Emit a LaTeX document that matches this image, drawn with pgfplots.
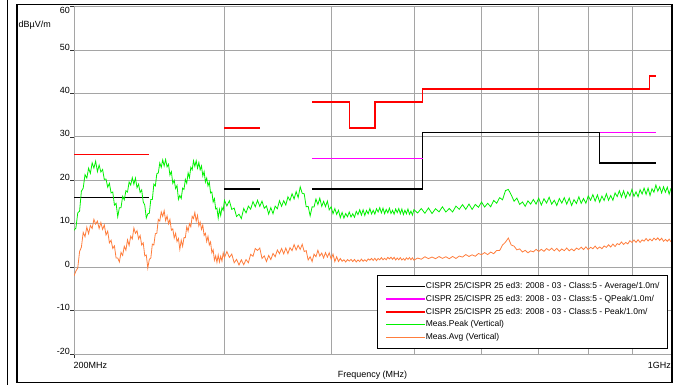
\documentclass[border=0pt]{standalone}
\usepackage{fontspec}
\setmainfont{Liberation Sans}
\usepackage{pgfplots}
\usepackage{pgfplotstable}
\pgfplotsset{compat=1.18}
\definecolor{gridgray}{RGB}{165,165,165}
\definecolor{limred}{RGB}{255,0,0}
\definecolor{limmag}{RGB}{255,0,255}
\definecolor{measg}{RGB}{0,240,0}
\definecolor{measo}{RGB}{255,125,60}

\pgfplotstableread{
f g o
200 8.5 -2.0
201 9.0 -0.9
202 12.5 -0.2
203 12.9 3.6
204 17.5 4.6
205 18.2 8.0
206 21.3 7.0
207 20.5 9.2
208 22.8 7.7
209 21.6 9.6
210 24.0 8.9
211 22.8 11.0
212 24.4 9.9
213 22.0 10.6
214 23.5 8.9
215 21.9 10.3
216 22.5 8.7
217 20.2 9.7
218 20.3 7.4
219 18.4 8.3
220 19.3 5.6
221 17.1 6.2
222 17.3 4.3
223 14.3 4.9
224 14.7 2.1
225 11.6 2.1
226 13.7 1.2
227 13.7 3.4
228 16.3 2.7
229 15.5 4.8
230 17.6 3.9
231 17.3 6.3
232 19.6 5.0
233 18.9 7.1
234 20.6 6.5
235 19.1 9.0
236 20.5 7.8
237 18.3 8.4
238 19.1 6.5
239 17.2 7.3
240 17.8 5.1
241 15.0 5.6
242 14.3 2.6
243 11.3 2.8
244 12.3 -0.2
245 12.4 1.8
246 15.6 2.1
247 15.6 5.3
248 19.1 5.1
249 18.7 7.7
250 21.5 7.8
251 21.7 11.0
252 24.0 10.6
253 23.0 12.7
254 24.7 11.7
255 23.3 13.0
256 24.8 10.7
257 23.1 11.8
258 23.7 10.0
259 21.2 11.0
260 22.0 8.5
261 19.3 8.8
262 20.0 6.7
263 18.1 7.8
264 18.8 5.9
265 15.6 6.6
266 16.5 4.1
267 15.8 6.2
268 18.2 4.8
269 17.9 6.8
270 20.2 6.8
271 19.3 9.3
272 21.7 8.3
273 20.6 10.0
274 23.0 9.3
275 22.4 11.7
276 24.5 11.2
277 23.2 12.6
278 24.5 10.6
279 22.8 11.9
280 24.1 9.5
281 22.4 10.4
282 23.3 8.7
283 21.0 9.7
284 22.0 7.3
285 19.6 7.8
286 20.5 5.9
287 18.7 7.1
288 19.6 5.1
289 17.1 5.8
290 17.3 3.3
291 15.0 4.0
292 15.8 1.6
293 13.4 2.6
294 13.6 1.1
295 11.3 2.8
296 13.3 1.2
297 11.9 2.5
298 13.7 1.4
299 13.1 3.3
300 15.4 2.2
302 14.1 3.6
304 15.3 2.25
306 13.3 3.0
308 13.6 1.0
310 11.65 1.8
312 12.2 0.5
314 11.2 1.7
316 13.5 0.55
318 12.5 1.75
320 14.05 1.0
322 13.35 2.95
324 15.1 2.5
326 13.9 4.3
328 15.4 3.85
330 14.0 4.4
332 15.2 2.0
334 13.55 2.6
336 14.1 1.3
338 12.2 2.7
340 13.7 1.75
342 12.3 3.15
344 14.05 2.4
346 13.45 3.95
348 15.3 3.1
350 14.0 4.3
352 15.3 3.05
354 14.3 4.4
356 16.2 3.1
358 15.35 4.5
360 16.9 3.8
362 15.7 5.2
364 17.4 3.95
366 16.0 5.05
368 18.5 4.1
370 17.0 5.25
372 16.9 3.6
374 13.9 3.8
376 14.0 1.65
378 11.8 2.4
380 13.9 1.3
382 13.85 3.0
384 15.7 2.4
386 14.4 3.9
388 15.9 2.55
390 14.0 3.25
392 15.15 2.1
394 13.95 3.35
396 15.2 2.3
398 13.2 3.3
400 13.9 1.85
402 12.3 3.0
404 13.5 1.3
406 12.15 2.4
408 13.1 1.3
410 11.4 2.0
412 12.6 1.35
414 11.3 1.7
416 12.35 1.2
418 11.6 1.75
420 12.7 1.4
422 11.55 1.8
424 12.3 1.3
426 11.5 1.77
428 12.85 1.2
430 12.1 1.65
432 13.2 1.3
434 12.0 1.85
436 13.2 1.35
438 11.9 1.7
440 13.05 1.35
442 12.3 1.9
444 13.5 1.6
446 12.25 2.0
448 13.1 1.55
450 12.2 2.05
452 13.45 1.5
454 12.7 2.0
456 13.7 1.7
458 12.5 2.2
460 13.6 1.7
462 12.3 2.05
464 13.3 1.7
466 12.5 2.25
468 13.6 1.9
470 12.35 2.3
472 13.1 1.8
474 12.2 2.27
476 13.4 1.65
478 12.55 2.1
480 13.5 1.7
482 12.3 2.2
484 13.4 1.65
486 12.1 2.0
488 13.1 1.6
490 12.3 2.15
492 13.4 1.8
494 12.15 2.2
496 12.9 1.7
498 12.0 2.15
500 13.25 1.6
505 12.47 2.1
510 13.5 1.82
515 12.41 2.4
520 13.63 1.96
525 12.35 2.34
530 13.45 1.95
535 12.73 2.44
540 13.9 2.03
545 12.69 2.4
550 13.51 1.94
555 12.7 2.47
560 14.06 2.0
565 13.32 2.55
570 14.4 2.32
575 13.31 2.9
580 14.53 2.46
585 13.3 2.84
590 14.45 2.5
595 13.78 3.14
600 15.0 2.88
605 13.84 3.35
610 14.71 2.89
615 13.9 3.47
620 15.36 3.1
625 14.72 3.85
630 16.0 3.82
635 15.51 5.1
640 17.63 5.76
645 17.9 6.7
650 16.65 5.1
655 15.18 4.84
660 15.9 3.98
665 14.44 4.2
670 15.01 3.49
675 14.0 3.87
680 15.26 3.3
685 14.52 3.75
690 15.6 3.52
695 14.51 4.1
700 15.9 3.62
705 14.3 4.1
710 15.75 3.65
715 14.75 4.28
720 16.1 3.86
725 14.5 4.35
730 15.4 3.75
735 14.2 4.32
740 15.8 3.65
745 14.75 4.18
750 16.0 3.79
755 14.5 4.4
760 15.9 3.77
765 14.2 4.2
770 15.55 3.75
775 14.65 4.38
780 16.2 4.06
785 14.7 4.6
790 15.8 4.05
795 14.7 4.67
800 16.4 4.05
805 15.4 4.58
810 16.7 4.24
815 15.2 4.85
820 16.65 4.22
825 14.95 4.65
830 16.35 4.25
835 15.35 4.88
840 16.9 4.56
845 15.4 5.15
850 16.5 4.65
855 15.4 5.32
860 17.1 4.75
865 16.25 5.43
870 17.6 5.19
875 16.15 5.8
880 17.6 5.22
885 15.95 5.7
890 17.35 5.35
895 16.4 6.08
900 17.9 5.71
905 16.3 6.25
910 17.35 5.7
915 16.2 6.32
920 17.85 5.7
925 16.85 6.28
930 18.2 5.99
935 16.75 6.6
940 18.2 6.02
945 16.5 6.5
950 18.05 6.05
955 17.25 6.68
960 18.9 6.26
965 17.5 6.75
970 18.5 6.15
975 17.1 6.67
980 18.5 5.95
985 17.25 6.38
990 18.4 5.94
995 16.8 6.45
1000 18.2 5.82
}\meas

\begin{document}
\begin{tikzpicture}
\begin{axis}[
  at={(74bp,31bp)}, anchor=south west,
  scale only axis, width=597bp, height=347.4bp,
  xmode=log, xmin=200, xmax=1000, ymin=-20, ymax=60,
  axis lines*=left,
  axis line style={-, draw=gridgray, line width=0.8bp},
  xtick={200}, xticklabels={},
  extra x ticks={300,400,500,600,700,800,900},
  extra x tick labels={,,,,,,},
  extra x tick style={grid=major, major tick length=0pt},
  ytick={-20,-10,0,10,20,30,40,50,60},
  yticklabels={-20,-10,0,10,20,30,40,50,\raisebox{-7bp}{60}},
  ymajorgrids,
  grid style={draw=gridgray, line width=0.8bp},
  tick align=outside, major tick length=4bp,
  tick style={draw=black!80, line width=0.6bp},
  yticklabel style={anchor=base east, inner sep=0pt, font=\fontsize{9}{10}\selectfont},
  unbounded coords=jump,
  legend image code/.code={\draw[#1] (0bp,0bp) -- (39bp,0bp);},
  legend cell align=left,
  legend style={at={(0.5075,0.2277)}, anchor=north west, draw=black, line width=1bp, fill=white,
    font=\fontsize{8.5}{10}\selectfont, inner xsep=8bp, inner ysep=7bp, row sep=4.6bp,
    nodes={inner sep=0pt, text height=6.3bp, text depth=1.8bp, anchor=west},
    /tikz/every even column/.append style={column sep=5bp}},
]
\addplot[black, line width=1.4bp] coordinates {
  (200,16) (245,16) (nan,nan)
  (300,18) (330,18) (nan,nan)
  (380,18) (512,18) (512,31) (825,31) (825,24) (960,24)};
\addlegendentry{CISPR 25/CISPR 25 ed3: 2008 - 03 - Class:5 - Average/1.0m/}
\addplot[limmag, line width=1.4bp] coordinates {
  (380,25) (512,25) (nan,nan)
  (825,31) (960,31)};
\addlegendentry{CISPR 25/CISPR 25 ed3: 2008 - 03 - Class:5 - QPeak/1.0m/}
\addplot[limred, line width=1.4bp] coordinates {
  (200,26) (245,26) (nan,nan)
  (300,32) (330,32) (nan,nan)
  (380,38) (420,38) (420,32) (450,32) (450,38) (512,38) (512,41) (944,41) (944,44) (960,44)};
\addlegendentry{CISPR 25/CISPR 25 ed3: 2008 - 03 - Class:5 - Peak/1.0m/}
\addplot[measg, line width=0.8bp] table[x=f, y=g] {\meas};
\addlegendentry{Meas.Peak (Vertical)}
\addplot[measo, line width=0.8bp] table[x=f, y=o] {\meas};
\addlegendentry{Meas.Avg (Vertical)}
\end{axis}
\node[anchor=west, inner sep=0pt, font=\fontsize{9}{10}\selectfont] at (73.5bp,20bp) {200MHz};
\node[anchor=east, inner sep=0pt, font=\fontsize{9}{10}\selectfont] at (671bp,20bp) {1GHz};
\node[anchor=center, inner sep=0pt, font=\fontsize{9}{10}\selectfont] at (372.5bp,10bp) {Frequency (MHz)};
\node[anchor=west, inner sep=0pt, font=\fontsize{9}{10}\selectfont] at (18.5bp,360bp) {dBµV/m};
\draw[line width=1.5bp] (17.2bp,380.5bp) rectangle (672bp,2.5bp);
\draw[line width=0.8bp] (7.3bp,0bp) -- (7.3bp,385bp);
\pgfresetboundingbox
\path[use as bounding box] (0bp,0bp) rectangle (674bp,385bp);
\end{tikzpicture}
\end{document}
